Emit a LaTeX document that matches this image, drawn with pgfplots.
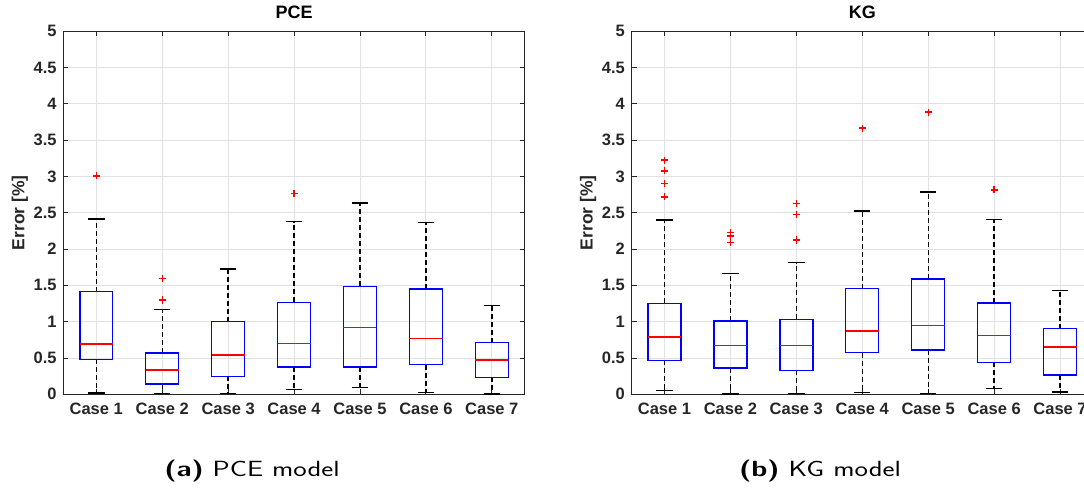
\documentclass[border=0pt]{standalone}
\usepackage{fontspec}
\setmainfont{Liberation Sans}
\usepackage{graphicx}
\usepackage{pgfplots}
\pgfplotsset{compat=1.18}
\usepgfplotslibrary{statistics}
\definecolor{axgray}{RGB}{38,38,38}
\definecolor{gridgray}{RGB}{225,225,225}
\definecolor{mblue}{RGB}{0,0,255}
\definecolor{mred}{RGB}{255,0,0}
\pgfplotsset{
  mybox/.style={
    scale only axis, width=461.5pt, height=363pt,
    xmin=0.5, xmax=7.5, ymin=0, ymax=5,
    xtick={1,2,3,4,5,6,7},
    xticklabels={Case 1,Case 2,Case 3,Case 4,Case 5,Case 6,Case 7},
    ytick={0,0.5,1,1.5,2,2.5,3,3.5,4,4.5,5},
    yticklabels={0,0.5,1,1.5,2,2.5,3,3.5,4,4.5,5},
    grid=major, major grid style={gridgray, line width=0.9pt},
    axis line style={axgray, line width=0.9pt},
    every tick/.style={axgray, line width=0.9pt},
    tick align=inside, major tick length=5pt,
    ticklabel style={font=\fontsize{16.5}{16.5}\selectfont\bfseries, text=axgray},
    xticklabel style={anchor=base, yshift=-20pt},
    yticklabel style={anchor=east, inner sep=0pt, xshift=-6.5pt},
    ylabel={Error [\%]},
    every axis y label/.style={at={(axis description cs:0,0.5)}, rotate=90, anchor=center, yshift=43.5pt, font=\fontsize{17.5}{17.5}\selectfont\bfseries, text=axgray},
    title style={at={(0.5,1)}, anchor=base, yshift=7pt, font=\fontsize{18}{18}\selectfont\bfseries, text=black},
    boxplot/draw direction=y,
    boxplot/box extend=0.5,
    boxplot/whisker extend=0.25,
    boxplot/every box/.style={draw=mblue, line width=1.45pt},
    boxplot/every median/.style={draw=mred, line width=1.45pt},
    boxplot/draw/lower whisker/.code={%
      \draw[black, line width=1.35pt, dash pattern=on 5pt off 3pt]
        (boxplot whisker cs:\pgfplotsboxplotvalue{lower quartile},0.5) --
        (boxplot whisker cs:\pgfplotsboxplotvalue{lower whisker},0.5);
      \draw[black, line width=1.35pt]
        (boxplot whisker cs:\pgfplotsboxplotvalue{lower whisker},0) --
        (boxplot whisker cs:\pgfplotsboxplotvalue{lower whisker},1);
    },
    boxplot/draw/upper whisker/.code={%
      \draw[black, line width=1.35pt, dash pattern=on 5pt off 3pt]
        (boxplot whisker cs:\pgfplotsboxplotvalue{upper quartile},0.5) --
        (boxplot whisker cs:\pgfplotsboxplotvalue{upper whisker},0.5);
      \draw[black, line width=1.35pt]
        (boxplot whisker cs:\pgfplotsboxplotvalue{upper whisker},0) --
        (boxplot whisker cs:\pgfplotsboxplotvalue{upper whisker},1);
    },
  },
  outl/.style={only marks, mark=+, mark size=3.5pt, draw=mred, line width=1.35pt, mark options={solid}},
}
\begin{document}
\begin{tikzpicture}[x=1pt,y=1pt]
\path[use as bounding box] (0,0) rectangle (1084,488);
\clip (0,0) rectangle (1084,488);
% ---------- PCE ----------
\begin{axis}[mybox, at={(63.3pt,93.7pt)}, anchor=south west, title={PCE}]
\addplot[boxplot prepared={draw position=1, lower whisker=0.018, lower quartile=0.482, median=0.693, upper quartile=1.414, upper whisker=2.415}] coordinates {};
\addplot[boxplot prepared={draw position=2, lower whisker=0.009, lower quartile=0.142, median=0.335, upper quartile=0.569, upper whisker=1.166}] coordinates {};
\addplot[boxplot prepared={draw position=3, lower whisker=0.009, lower quartile=0.248, median=0.542, upper quartile=1.001, upper whisker=1.726}] coordinates {};
\addplot[boxplot prepared={draw position=4, lower whisker=0.069, lower quartile=0.376, median=0.698, upper quartile=1.267, upper whisker=2.378}] coordinates {};
\addplot[boxplot prepared={draw position=5, lower whisker=0.092, lower quartile=0.376, median=0.923, upper quartile=1.488, upper whisker=2.635}] coordinates {};
\addplot[boxplot prepared={draw position=6, lower whisker=0.023, lower quartile=0.409, median=0.771, upper quartile=1.451, upper whisker=2.365}] coordinates {};
\addplot[boxplot prepared={draw position=7, lower whisker=0.005, lower quartile=0.234, median=0.473, upper quartile=0.712, upper whisker=1.221}] coordinates {};
\addplot[outl] coordinates {(1,3.007) (2,1.593) (2,1.292) (2,1.306) (4,2.764)};
\end{axis}
% ---------- KG ----------
\begin{axis}[mybox, at={(631.5pt,93.7pt)}, anchor=south west, title={KG}]
\addplot[boxplot prepared={draw position=1, lower whisker=0.055, lower quartile=0.469, median=0.790, upper quartile=1.254, upper whisker=2.402}] coordinates {};
\addplot[boxplot prepared={draw position=2, lower whisker=0.005, lower quartile=0.363, median=0.671, upper quartile=1.011, upper whisker=1.663}] coordinates {};
\addplot[boxplot prepared={draw position=3, lower whisker=0.014, lower quartile=0.331, median=0.675, upper quartile=1.034, upper whisker=1.814}] coordinates {};
\addplot[boxplot prepared={draw position=4, lower whisker=0.023, lower quartile=0.574, median=0.873, upper quartile=1.456, upper whisker=2.526}] coordinates {};
\addplot[boxplot prepared={draw position=5, lower whisker=0.009, lower quartile=0.611, median=0.951, upper quartile=1.589, upper whisker=2.788}] coordinates {};
\addplot[boxplot prepared={draw position=6, lower whisker=0.083, lower quartile=0.441, median=0.808, upper quartile=1.259, upper whisker=2.407}] coordinates {};
\addplot[boxplot prepared={draw position=7, lower whisker=0.032, lower quartile=0.266, median=0.652, upper quartile=0.905, upper whisker=1.429}] coordinates {};
\addplot[outl] coordinates {(1,3.225) (1,3.078) (1,2.903) (1,2.719) (2,2.225) (2,2.180) (2,2.095) (3,2.627) (3,2.480) (3,2.115) (3,2.128) (4,3.666) (5,3.887) (6,2.816)};
\end{axis}
% ---------- captions ----------
\node[font=\sffamily\fontsize{22}{22}\selectfont] at (252,17) {\scalebox{1.3}[1]{\textbf{(a)} PCE model}};
\node[font=\sffamily\fontsize{22}{22}\selectfont] at (820,17) {\scalebox{1.3}[1]{\textbf{(b)} KG model}};
\end{tikzpicture}
\end{document}
